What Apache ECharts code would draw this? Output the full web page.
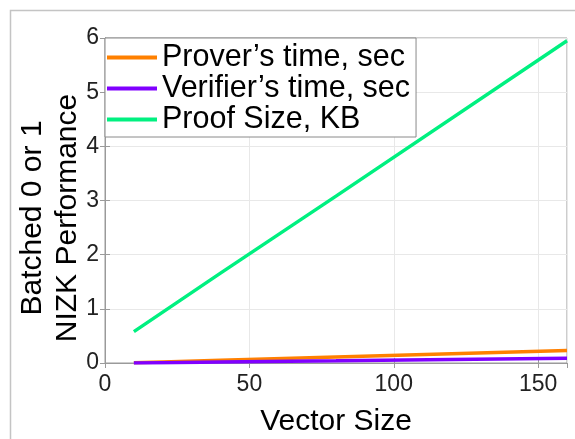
<!DOCTYPE html>
<html>
<head>
<meta charset="utf-8">
<script src="https://cdn.jsdelivr.net/npm/echarts@6/dist/echarts.min.js"></script>
<style>
html,body{margin:0;padding:0;background:#fff;}
#chart{width:575px;height:439px;}
</style>
</head>
<body>
<div id="chart"></div>
<script>
var vectorSizes = [10, 20, 40, 80, 160];
var proverTime = [0.005, 0.02, 0.05, 0.11, 0.23];
var verifierTime = [0.001, 0.006, 0.017, 0.04, 0.088];
var proofSize = [0.58, 0.94, 1.66, 3.08, 5.95];
var seriesNames = ['Prover\u2019s time, sec', 'Verifier\u2019s time, sec', 'Proof Size, KB'];
var seriesColors = ['#FF8000', '#8000FF', '#00F080'];
var yLabelText = 'Batched 0 or 1\nNIZK Performance';
var xLabelText = 'Vector Size';

function pairs(ys){ return vectorSizes.map(function(x,i){ return [x, ys[i]]; }); }

var FONT = 'Liberation Sans';
var chart = echarts.init(document.getElementById('chart'));
var axisGray = '#9A9A9A';
var gridGray = '#E8E8E8';

var option = {
  animation: false,
  backgroundColor: '#fff',
  textStyle: { fontFamily: FONT },
  grid: { left: 105, right: 8, top: 38, bottom: 76, outerBoundsMode: 'none', containLabel: false, show: true, borderColor: axisGray, borderWidth: 1, backgroundColor: 'transparent' },
  graphic: [
    { type: 'rect', z: -10, shape: { x: 10.5, y: 10.5, width: 700, height: 600 }, style: { fill: 'none', stroke: '#C4C4C4', lineWidth: 1.5 } },
    { type: 'text', x: 50, y: 218, rotation: Math.PI / 2,
      style: { text: yLabelText, font: '30px "Liberation Sans"', fill: '#000', align: 'center', verticalAlign: 'middle', lineHeight: 35 } }
  ],
  legend: {
    orient: 'vertical', left: 105, top: 38,
    padding: [4, 6, 2, 2], itemGap: 0, itemWidth: 50, itemHeight: 4,
    backgroundColor: '#fff', borderColor: '#8A8A8A', borderWidth: 1, borderRadius: 0,
    textStyle: { fontSize: 30.5, lineHeight: 30, color: '#000', fontFamily: FONT },
    data: seriesNames.map(function(n){ return { name: n, icon: 'rect' }; })
  },
  xAxis: [{
    type: 'value', min: 0, max: 160, interval: 50,
    name: xLabelText, nameLocation: 'middle', nameGap: 44,
    nameTextStyle: { fontSize: 30, color: '#000', fontFamily: FONT },
    axisLine: { show: true, lineStyle: { color: axisGray } },
    axisTick: { show: true, inside: true, length: 5, lineStyle: { color: axisGray } },
    axisLabel: { fontSize: 23, color: '#222', margin: 10, showMaxLabel: false, fontFamily: FONT },
    splitLine: { show: true, lineStyle: { color: gridGray } }
  }, {
    type: 'value', min: 0, max: 160, interval: 50, position: 'top',
    axisLine: { show: true, lineStyle: { color: axisGray } },
    axisTick: { show: true, inside: true, length: 5, lineStyle: { color: axisGray } },
    axisLabel: { show: false }, splitLine: { show: false }
  }],
  yAxis: [{
    type: 'value', min: 0, max: 6, interval: 1,
    axisLine: { show: true, lineStyle: { color: axisGray } },
    axisTick: { show: true, inside: true, length: 5, lineStyle: { color: axisGray } },
    axisLabel: { fontSize: 23, color: '#222', margin: 6, fontFamily: FONT },
    splitLine: { show: true, lineStyle: { color: gridGray } }
  }, {
    type: 'value', min: 0, max: 6, interval: 1, position: 'right',
    axisLine: { show: true, lineStyle: { color: axisGray } },
    axisTick: { show: true, inside: true, length: 5, lineStyle: { color: axisGray } },
    axisLabel: { show: false }, splitLine: { show: false }
  }],
  series: [
    { name: seriesNames[0], type: 'line', data: pairs(proverTime), symbol: 'none', color: seriesColors[0], lineStyle: { width: 3.5, color: seriesColors[0] } },
    { name: seriesNames[1], type: 'line', data: pairs(verifierTime), symbol: 'none', color: seriesColors[1], lineStyle: { width: 3.5, color: seriesColors[1] } },
    { name: seriesNames[2], type: 'line', data: pairs(proofSize), symbol: 'none', color: seriesColors[2], lineStyle: { width: 3.5, color: seriesColors[2] } }
  ]
};
chart.setOption(option);
</script>
</body>
</html>
